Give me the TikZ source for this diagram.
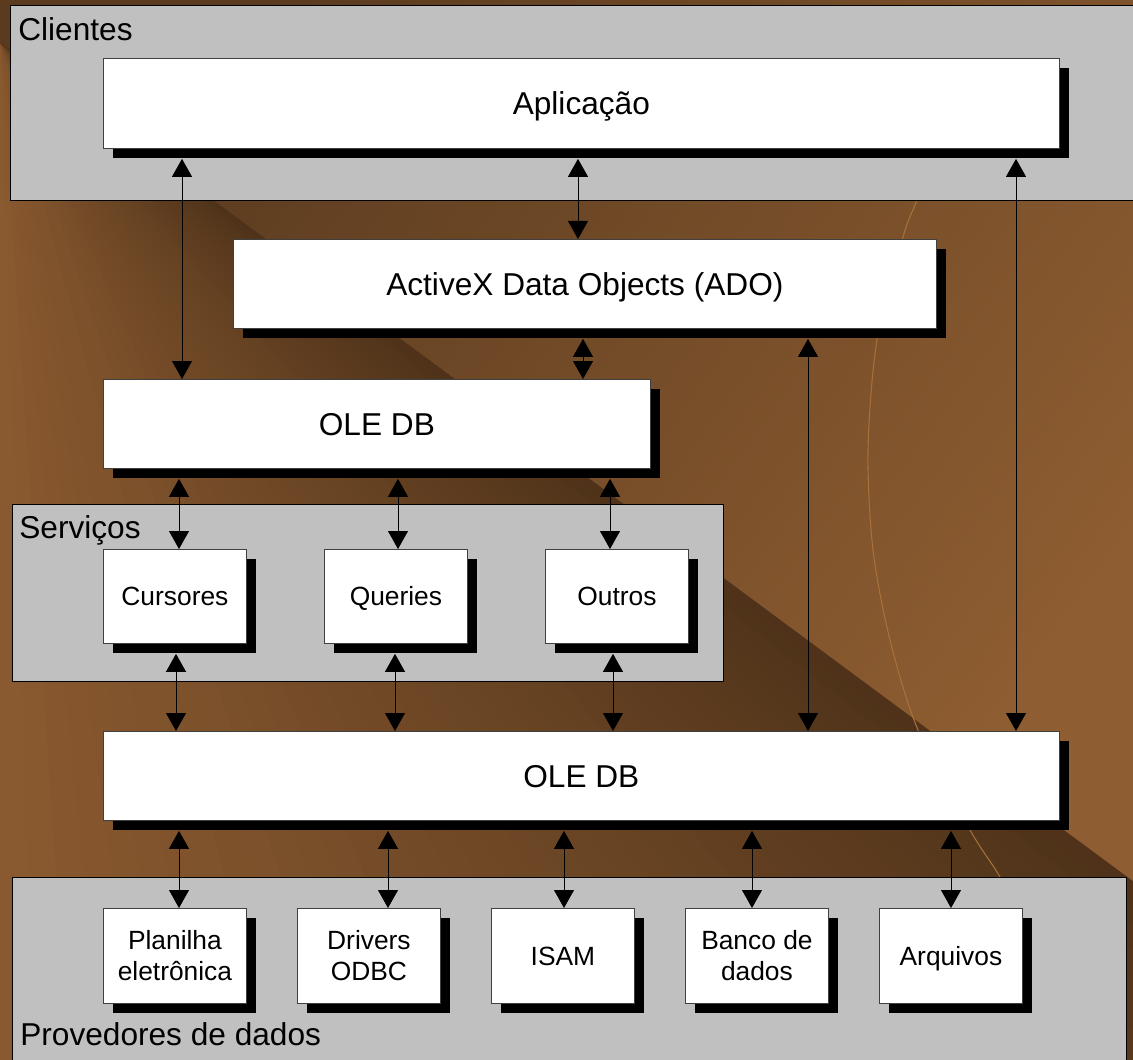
\documentclass[tikz,border=0pt]{standalone}
\usepackage{fontspec}
\setmainfont{Liberation Sans}
\usetikzlibrary{arrows.meta,calc,shadows}

\definecolor{bglight}{HTML}{8A5A30}
\definecolor{bgdark}{HTML}{4E3219}
\definecolor{bgtopdark}{HTML}{5A3B1F}
\definecolor{bgtoplight}{HTML}{8E5D31}
\definecolor{arcline}{HTML}{A8703A}
\definecolor{panelgray}{HTML}{C0C0C0}

\begin{document}
\begin{tikzpicture}[
    x=0.02cm, y=-0.02cm,
    panel/.style={draw=black,fill=panelgray,line width=0.6pt,anchor=north west,inner sep=0pt},
    paneltitle/.style={anchor=base west,inner sep=0pt,font=\fontsize{18}{21.6}\selectfont},
    box/.style={draw=black!75,fill=white,line width=0.5pt,anchor=north west,inner sep=0pt,align=center,
      font=\fontsize{18}{21.6}\selectfont,
      drop shadow={shadow xshift=0.2cm,shadow yshift=-0.2cm,fill=black,opacity=1}},
    unit/.style={box,minimum width=2.86cm,minimum height=1.88cm,font=\fontsize{15}{17.5}\selectfont},
    bigline/.style={text height=13pt,text depth=0pt},
    smallline/.style={text height=10.8pt,text depth=0pt},
    link/.style={{Triangle[length=3.6mm,width=4mm]}-{Triangle[length=3.6mm,width=4mm]},line width=0.5pt,draw=black,fill=black}
  ]
    \useasboundingbox (0,0) rectangle (1133,1060);
    \clip (0,0) rectangle (1133,1060);

    % background
    \fill[bglight] (0,0) rectangle (1133,1060);
    \foreach \i in {0,...,39}{
      \pgfmathsetmacro\p{100*(\i+0.5)/40}
      \pgfmathsetmacro\q{34.35*\i}
      \fill[bgdark!\p!bglight] (0,42) -- (\q,1060) -- (1374,1060) -- cycle;
    }
    \shade[top color=bgtopdark,bottom color=bgtoplight,shading angle=53.5]
      (0,42) -- (0,0) -- (1133,0) -- (1133,881) -- cycle;
    \draw[arcline,line width=0.6pt] plot[smooth] coordinates
      {(935,150) (917,200) (903,237) (877,340) (868,450) (873,550) (890,640) (918,730) (970,830) (1000,877) (1020,920)};

    % panels
    \node[panel,minimum width=22.6cm,minimum height=3.9cm] (cli) at (10,5) {};
    \node[paneltitle] (clit) at (18,41) {Clientes};
    \node[panel,minimum width=14.22cm,minimum height=3.54cm] (srv) at (12,504) {};
    \node[paneltitle] (srvt) at (19,539) {Serviços};
    \node[panel,minimum width=22.28cm,minimum height=3.9cm] (prv) at (12,877) {};
    \node[paneltitle] (prvt) at (20,1045) {Provedores de dados};

    % boxes
    \node[box,bigline,minimum width=19.12cm,minimum height=1.8cm] (app) at (103,58) {Aplicação};
    \node[box,bigline,minimum width=14.06cm,minimum height=1.78cm] (ado) at (233,239) {ActiveX Data Objects (ADO)};
    \node[box,bigline,minimum width=10.94cm,minimum height=1.78cm] (oleA) at (103,379) {OLE DB};
    \node[unit,smallline] (cur) at (103,549) {Cursores};
    \node[unit,smallline] (qry) at (324,549) {Queries};
    \node[unit,smallline] (oth) at (545,549) {Outros};
    \node[box,bigline,minimum width=19.12cm,minimum height=1.78cm] (oleB) at (103,731) {OLE DB};
    \node[unit,minimum height=1.9cm] (pla) at (103,908) {Planilha\\eletrônica};
    \node[unit,minimum height=1.9cm] (drv) at (297,908) {Drivers\\ODBC};
    \node[unit,smallline,minimum height=1.9cm] (isam) at (491,908) {ISAM};
    \node[unit,minimum height=1.9cm] (bco) at (685,908) {Banco de\\dados};
    \node[unit,smallline,minimum height=1.9cm] (arq) at (879,908) {Arquivos};

    % connectors
    \foreach \x/\a/\b in {182/app/oleA,578/app/ado,1016/app/oleB,583/ado/oleA,808/ado/oleB,
        179/oleA/cur,398/oleA/qry,610/oleA/oth,176/cur/oleB,395/qry/oleB,613/oth/oleB,
        179/oleB/pla,388/oleB/drv,564/oleB/isam,752/oleB/bco,951/oleB/arq}{
      \coordinate (col) at (\x,0);
      \draw[link] ($(\a.south -| col)+(0,10)$) -- (\b.north -| col);
    }
\end{tikzpicture}
\end{document}
